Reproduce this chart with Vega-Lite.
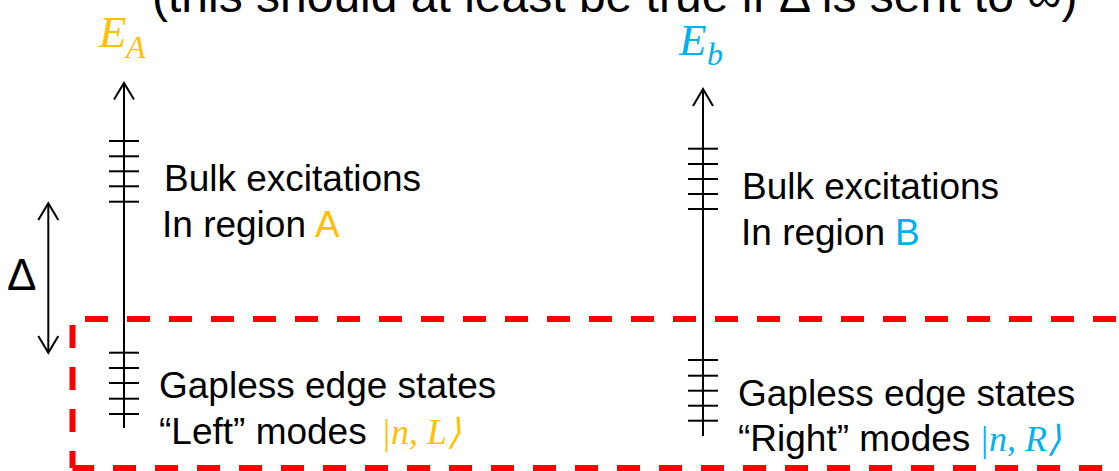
{
  "$schema": "https://vega.github.io/schema/vega-lite/v6.json",
  "width": 1119,
  "height": 471,
  "autosize": "none",
  "padding": 0,
  "background": "white",
  "config": {"view": {"stroke": null}},
  "datasets": {
    "dashTop": [{"x": 85, "y": 319, "o": 1}, {"x": 1125, "y": 319, "o": 2}],
    "dashLeft": [{"x": 72.5, "y": 325, "o": 1}, {"x": 72.5, "y": 468, "o": 2}],
    "dashBottom": [{"x": 72.5, "y": 468, "o": 1}, {"x": 1125, "y": 468, "o": 2}],
    "paths": [
      {"id": "axisA", "o": 1, "x": 124, "y": 83},
      {"id": "axisA", "o": 2, "x": 124, "y": 428},
      {"id": "headA", "o": 1, "x": 114, "y": 99.5},
      {"id": "headA", "o": 2, "x": 124, "y": 83},
      {"id": "headA", "o": 3, "x": 134, "y": 99.5},
      {"id": "axisB", "o": 1, "x": 703, "y": 89},
      {"id": "axisB", "o": 2, "x": 703, "y": 436},
      {"id": "headB", "o": 1, "x": 693, "y": 106},
      {"id": "headB", "o": 2, "x": 703, "y": 89},
      {"id": "headB", "o": 3, "x": 713, "y": 106},
      {"id": "gap", "o": 1, "x": 48.3, "y": 203.3},
      {"id": "gap", "o": 2, "x": 48.3, "y": 352.7},
      {"id": "gapTop", "o": 1, "x": 38.3, "y": 220},
      {"id": "gapTop", "o": 2, "x": 48.3, "y": 203.3},
      {"id": "gapTop", "o": 3, "x": 58.3, "y": 220},
      {"id": "gapBot", "o": 1, "x": 38.3, "y": 336},
      {"id": "gapBot", "o": 2, "x": 48.3, "y": 352.7},
      {"id": "gapBot", "o": 3, "x": 58.3, "y": 336}
    ],
    "levels": [
      {"x": 109, "x2": 139, "y": 141},
      {"x": 109, "x2": 139, "y": 156.3},
      {"x": 109, "x2": 139, "y": 171.3},
      {"x": 109, "x2": 139, "y": 186.3},
      {"x": 109, "x2": 139, "y": 201.7},
      {"x": 109, "x2": 139, "y": 352.7},
      {"x": 109, "x2": 139, "y": 368},
      {"x": 109, "x2": 139, "y": 383},
      {"x": 109, "x2": 139, "y": 398.7},
      {"x": 109, "x2": 139, "y": 414},
      {"x": 688, "x2": 718, "y": 148.7},
      {"x": 688, "x2": 718, "y": 164},
      {"x": 688, "x2": 718, "y": 179},
      {"x": 688, "x2": 718, "y": 194},
      {"x": 688, "x2": 718, "y": 209},
      {"x": 688, "x2": 718, "y": 360},
      {"x": 688, "x2": 718, "y": 375.7},
      {"x": 688, "x2": 718, "y": 390.7},
      {"x": 688, "x2": 718, "y": 405.7},
      {"x": 688, "x2": 718, "y": 420.7}
    ],
    "labels": [
      {"text": "Bulk excitations", "x": 164, "y": 191, "tone": "ink"},
      {"text": "In region", "x": 162, "y": 237, "tone": "ink"},
      {"text": "A", "x": 315, "y": 237, "tone": "A"},
      {"text": "Bulk excitations", "x": 742, "y": 199, "tone": "ink"},
      {"text": "In region", "x": 741, "y": 245, "tone": "ink"},
      {"text": "B", "x": 895, "y": 245, "tone": "B"},
      {"text": "Gapless edge states", "x": 159, "y": 398, "tone": "ink"},
      {"text": "“Left” modes", "x": 159, "y": 444, "tone": "ink"},
      {"text": "Gapless edge states", "x": 738, "y": 406, "tone": "ink"},
      {"text": "“Right” modes", "x": 738, "y": 451, "tone": "ink"}
    ],
    "mathMain": [
      {"text": "E", "x": 99, "y": 47, "tone": "A"},
      {"text": "E", "x": 679, "y": 55, "tone": "B"}
    ],
    "mathSub": [
      {"text": "A", "x": 126, "y": 58, "tone": "A"},
      {"text": "b", "x": 707, "y": 65, "tone": "B"}
    ],
    "kets": [
      {"text": "|n, L⟩", "x": 381, "y": 444, "tone": "A"},
      {"text": "|n, R⟩", "x": 979, "y": 451, "tone": "B"}
    ],
    "title": [{"text": "(this should at least be true if Δ is sent to ∞)", "x": 152, "y": 12}],
    "delta": [{"text": "Δ", "x": 7, "y": 290}]
  },
  "encoding": {
    "x": {"field": "x", "type": "quantitative", "scale": {"domain": [0, 1119], "nice": false, "zero": false}, "axis": null},
    "y": {"field": "y", "type": "quantitative", "scale": {"domain": [0, 471], "nice": false, "zero": false, "reverse": true}, "axis": null}
  },
  "layer": [
    {
      "data": {"name": "dashTop"},
      "mark": {"type": "line", "color": "#FF0000", "strokeWidth": 6, "strokeDash": [23, 19], "strokeDashOffset": 0, "strokeCap": "butt"},
      "encoding": {"order": {"field": "o", "type": "quantitative"}}
    },
    {
      "data": {"name": "dashLeft"},
      "mark": {"type": "line", "color": "#FF0000", "strokeWidth": 6, "strokeDash": [23, 19], "strokeDashOffset": 0, "strokeCap": "butt"},
      "encoding": {"order": {"field": "o", "type": "quantitative"}}
    },
    {
      "data": {"name": "dashBottom"},
      "mark": {"type": "line", "color": "#FF0000", "strokeWidth": 6, "strokeDash": [23, 19], "strokeDashOffset": 1.5, "strokeCap": "butt"},
      "encoding": {"order": {"field": "o", "type": "quantitative"}}
    },
    {
      "data": {"name": "paths"},
      "mark": {"type": "line", "color": "#000000", "strokeWidth": 2, "strokeCap": "butt", "strokeJoin": "miter"},
      "encoding": {
        "detail": {"field": "id", "type": "nominal"},
        "order": {"field": "o", "type": "quantitative"}
      }
    },
    {
      "data": {"name": "levels"},
      "mark": {"type": "rule", "color": "#000000", "strokeWidth": 2},
      "encoding": {"x2": {"field": "x2"}}
    },
    {
      "data": {"name": "labels"},
      "mark": {"type": "text", "font": "Liberation Sans", "fontSize": 37, "align": "left", "baseline": "alphabetic"},
      "encoding": {
        "text": {"field": "text"},
        "color": {"field": "tone", "type": "nominal", "scale": {"domain": ["ink", "A", "B"], "range": ["#000000", "#FFC000", "#00B0F0"]}, "legend": null}
      }
    },
    {
      "data": {"name": "mathMain"},
      "mark": {"type": "text", "font": "Liberation Serif", "fontStyle": "italic", "fontSize": 45, "align": "left", "baseline": "alphabetic"},
      "encoding": {
        "text": {"field": "text"},
        "color": {"field": "tone", "type": "nominal", "scale": {"domain": ["ink", "A", "B"], "range": ["#000000", "#FFC000", "#00B0F0"]}, "legend": null}
      }
    },
    {
      "data": {"name": "mathSub"},
      "mark": {"type": "text", "font": "Liberation Serif", "fontStyle": "italic", "fontSize": 32, "align": "left", "baseline": "alphabetic"},
      "encoding": {
        "text": {"field": "text"},
        "color": {"field": "tone", "type": "nominal", "scale": {"domain": ["ink", "A", "B"], "range": ["#000000", "#FFC000", "#00B0F0"]}, "legend": null}
      }
    },
    {
      "data": {"name": "kets"},
      "mark": {"type": "text", "font": "Liberation Serif", "fontStyle": "italic", "fontSize": 36, "align": "left", "baseline": "alphabetic"},
      "encoding": {
        "text": {"field": "text"},
        "color": {"field": "tone", "type": "nominal", "scale": {"domain": ["ink", "A", "B"], "range": ["#000000", "#FFC000", "#00B0F0"]}, "legend": null}
      }
    },
    {
      "data": {"name": "title"},
      "mark": {"type": "text", "font": "Liberation Sans", "fontSize": 48, "align": "left", "baseline": "alphabetic", "color": "#000000"},
      "encoding": {"text": {"field": "text"}}
    },
    {
      "data": {"name": "delta"},
      "mark": {"type": "text", "font": "Liberation Sans", "fontSize": 44, "align": "left", "baseline": "alphabetic", "color": "#000000"},
      "encoding": {"text": {"field": "text"}}
    }
  ]
}
